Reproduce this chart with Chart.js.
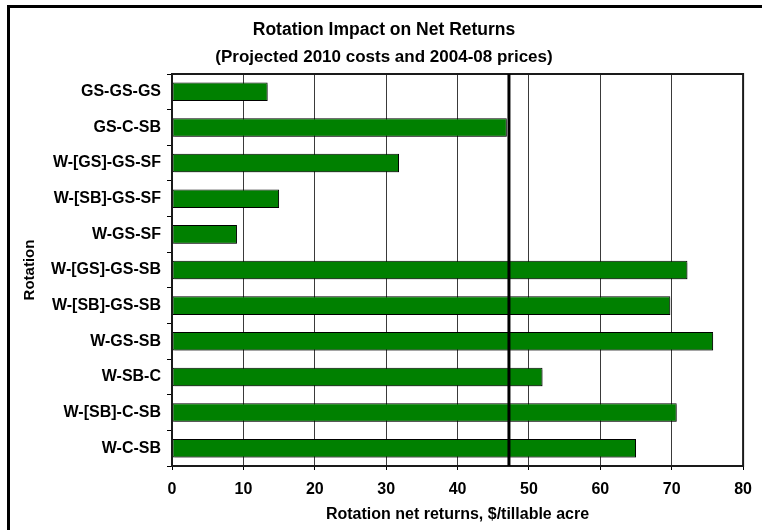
<!DOCTYPE html>
<html>
<head>
<meta charset="utf-8">
<script src="https://cdn.jsdelivr.net/npm/chart.js@4"></script>
<style>
  html, body { margin: 0; padding: 0; background: #fff; }
  canvas { display: block; }
</style>
</head>
<body>
<canvas id="rotations" width="762" height="530"></canvas>
<script>
// Rotationer och nettoavkastning ($/acre)
const rotations = [
  "GS-GS-GS", "GS-C-SB", "W-[GS]-GS-SF", "W-[SB]-GS-SF", "W-GS-SF",
  "W-[GS]-GS-SB", "W-[SB]-GS-SB", "W-GS-SB", "W-SB-C", "W-[SB]-C-SB", "W-C-SB"
];
const netReturns = [13.4, 46.9, 31.8, 15.0, 9.1, 72.2, 69.8, 75.8, 51.9, 70.7, 65.0];
const averageReturn = 47.2;
const xTicks = [0, 10, 20, 30, 40, 50, 60, 70, 80];

Chart.defaults.font.family = "'Liberation Sans', Arial, sans-serif";
Chart.defaults.color = "#000";

// ram runt hela bilden (bara vänster + topp syns)
const outerFrame = {
  id: "outerFrame",
  beforeDraw(chart) {
    const ctx = chart.ctx;
    ctx.save();
    ctx.fillStyle = "#000";
    ctx.fillRect(7, 5, 3, chart.height - 5);
    ctx.fillRect(7, 5, chart.width - 7, 3);
    ctx.restore();
  }
};

// skugga på staplarna
const barShadow = {
  id: "barShadow",
  beforeDatasetsDraw(chart) {
    const ctx = chart.ctx;
    ctx.save();
    ctx.shadowColor = "rgba(0,0,0,0.28)";
    ctx.shadowOffsetX = 2;
    ctx.shadowOffsetY = 2;
    ctx.shadowBlur = 0;
  },
  afterDatasetsDraw(chart) {
    chart.ctx.restore();
  }
};

// medelvärdeslinje + ram runt plottytan
const avgLine = {
  id: "avgLine",
  afterDatasetsDraw(chart) {
    const { ctx, chartArea, scales } = chart;
    const x = scales.x.getPixelForValue(averageReturn);
    ctx.save();
    ctx.strokeStyle = "#1a1a1a";
    ctx.lineWidth = 2;
    ctx.strokeRect(chartArea.left, chartArea.top, chartArea.right - chartArea.left, chartArea.bottom - chartArea.top);
    ctx.strokeStyle = "#000";
    ctx.lineWidth = 3;
    ctx.beginPath();
    ctx.moveTo(x, chartArea.top);
    ctx.lineTo(x, chartArea.bottom);
    ctx.stroke();
    ctx.restore();
  }
};

new Chart(document.getElementById("rotations"), {
  type: "bar",
  data: {
    labels: rotations,
    datasets: [{
      label: "Net returns",
      data: netReturns,
      backgroundColor: "#008000",
      borderColor: "#000",
      borderWidth: 1,
      borderSkipped: false,
      barPercentage: 0.52,
      categoryPercentage: 1
    }]
  },
  options: {
    indexAxis: "y",
    responsive: false,
    animation: false,
    devicePixelRatio: 1,
    layout: {
      padding: { left: 17, right: 11, top: 0, bottom: 0 }
    },
    plugins: {
      legend: { display: false },
      tooltip: { enabled: false },
      title: {
        display: true,
        text: "Rotation Impact on Net Returns",
        font: { size: 17.5, weight: "bold" },
        padding: { top: 20, bottom: 5.8 }
      },
      subtitle: {
        display: true,
        text: "(Projected 2010 costs and 2004-08 prices)",
        color: "#000",
        font: { size: 17, weight: "bold" },
        padding: { top: 0, bottom: 6.8 }
      }
    },
    scales: {
      x: {
        min: 0,
        max: 80,
        afterBuildTicks: (scale) => {
          scale.ticks = xTicks.map(v => ({ value: v }));
        },
        afterFit: (scale) => { scale.height = 64; },
        grid: {
          color: "#3a3a3a",
          lineWidth: 1,
          tickLength: 4,
          tickColor: "#000"
        },
        border: { color: "#000", width: 2 },
        ticks: {
          padding: 10,
          font: { size: 16, weight: "bold" }
        },
        title: {
          display: true,
          text: "Rotation net returns, $/tillable acre",
          font: { size: 16, weight: "bold" },
          padding: { top: 0, bottom: 5.4 }
        }
      },
      y: {
        afterFit: (scale) => { scale.width = 155; },
        grid: {
          drawOnChartArea: false,
          drawTicks: true,
          tickLength: 5,
          color: "#000"
        },
        border: { color: "#000", width: 2 },
        ticks: {
          padding: 6,
          font: { size: 16, weight: "bold" }
        },
        title: {
          display: true,
          text: "Rotation",
          font: { size: 15, weight: "bold" },
          padding: { top: 4, bottom: 0 }
        }
      }
    }
  },
  plugins: [outerFrame, barShadow, avgLine]
});
</script>
</body>
</html>
